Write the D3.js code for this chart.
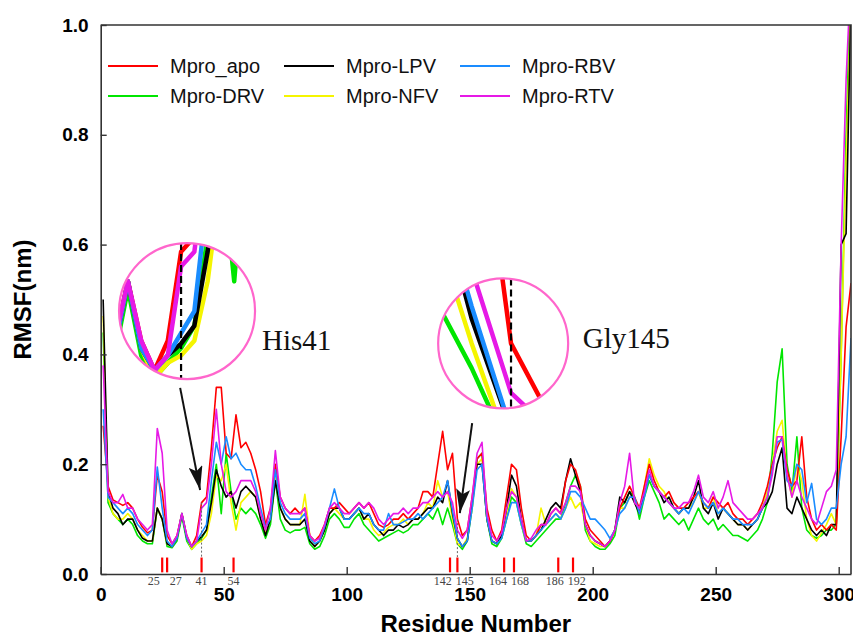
<!DOCTYPE html>
<html>
<head>
<meta charset="utf-8">
<script src="https://cdn.jsdelivr.net/npm/d3@7"></script>
<style>
body { margin: 0; background: #fff; }
text { font-family: "Liberation Sans", Arial, sans-serif; }
</style>
</head>
<body>
<svg id="chart" width="853" height="637"></svg>
<script>
"use strict";

var residues = d3.range(1, 306, 2);

var seriesNames  = ["Mpro_apo", "Mpro-LPV", "Mpro-RBV", "Mpro-DRV", "Mpro-NFV", "Mpro-RTV"];
var seriesColors = ["#ff0000", "#000000", "#1a8cff", "#00e600", "#f5f500", "#e619e6"];
var drawOrder    = ["Mpro-DRV", "Mpro-NFV", "Mpro-LPV", "Mpro_apo", "Mpro-RBV", "Mpro-RTV"];

// RMSF (nm) per series, residues 1,3,5 ... 305
var apo = [
  0.27, 0.16, 0.135, 0.13, 0.125, 0.13, 0.12, 0.10, 0.085, 0.075,
  0.08, 0.18, 0.15, 0.07, 0.055, 0.07, 0.11, 0.07, 0.05, 0.07,
  0.13, 0.14, 0.23, 0.34, 0.34, 0.22, 0.21, 0.29, 0.23, 0.24,
  0.22, 0.19, 0.15, 0.09, 0.12, 0.2, 0.14, 0.12, 0.11, 0.12,
  0.11, 0.12, 0.07, 0.06, 0.07, 0.09, 0.12, 0.12, 0.13, 0.12,
  0.11, 0.12, 0.13, 0.12, 0.13, 0.11, 0.09, 0.085, 0.09, 0.1,
  0.1, 0.11, 0.1, 0.11, 0.12, 0.15, 0.15, 0.14, 0.2, 0.26,
  0.19, 0.22, 0.1, 0.07, 0.08, 0.14, 0.21, 0.22, 0.12, 0.08,
  0.06, 0.08, 0.14, 0.2, 0.19, 0.12, 0.07, 0.06, 0.07, 0.09,
  0.09, 0.11, 0.12, 0.11, 0.17, 0.2, 0.19, 0.16, 0.1, 0.08,
  0.07, 0.06, 0.05, 0.06, 0.08, 0.12, 0.14, 0.16, 0.14, 0.12,
  0.16, 0.2, 0.17, 0.15, 0.14, 0.15, 0.13, 0.12, 0.12, 0.13,
  0.14, 0.15, 0.13, 0.12, 0.14, 0.13, 0.12, 0.13, 0.11, 0.1,
  0.1, 0.09, 0.1, 0.11, 0.13, 0.16, 0.2, 0.23, 0.25, 0.19,
  0.16, 0.17, 0.25, 0.14, 0.1, 0.08, 0.09, 0.08, 0.09, 0.08,
  0.25, 0.45, 0.53
];
var lpv = [
  0.5, 0.15, 0.12, 0.11, 0.09, 0.1, 0.1, 0.08, 0.065, 0.06,
  0.06, 0.12, 0.1, 0.055, 0.05, 0.065, 0.11, 0.065, 0.05, 0.06,
  0.068, 0.08, 0.13, 0.19, 0.16, 0.14, 0.15, 0.12, 0.15, 0.16,
  0.15, 0.14, 0.1, 0.07, 0.1, 0.17, 0.12, 0.1, 0.09, 0.09,
  0.09, 0.1, 0.06, 0.05, 0.06, 0.08, 0.11, 0.12, 0.12, 0.1,
  0.1, 0.11, 0.12, 0.1, 0.11, 0.09, 0.08, 0.07, 0.08, 0.08,
  0.09, 0.085, 0.09, 0.1, 0.1, 0.11, 0.12, 0.12, 0.14, 0.13,
  0.17, 0.11, 0.065, 0.05, 0.06, 0.13, 0.2, 0.2, 0.1, 0.06,
  0.055, 0.07, 0.12, 0.18, 0.16, 0.1, 0.06, 0.06, 0.07, 0.08,
  0.1, 0.12, 0.13, 0.12, 0.17, 0.21, 0.18, 0.15, 0.09, 0.07,
  0.06, 0.055, 0.05, 0.06, 0.08, 0.14, 0.13, 0.15, 0.13, 0.11,
  0.15, 0.18, 0.16, 0.15, 0.13, 0.14, 0.12, 0.11, 0.12, 0.12,
  0.14, 0.17, 0.12, 0.11, 0.13, 0.1, 0.12, 0.11, 0.1, 0.09,
  0.09, 0.08, 0.09, 0.1, 0.12, 0.13, 0.15, 0.2, 0.23, 0.12,
  0.11, 0.14, 0.12, 0.1, 0.08, 0.07, 0.08, 0.07, 0.09, 0.09,
  0.6, 0.62, 1.05
];
var rbv = [
  0.3, 0.14, 0.13, 0.12, 0.11, 0.12, 0.11, 0.09, 0.08, 0.07,
  0.08, 0.195, 0.12, 0.06, 0.05, 0.065, 0.11, 0.065, 0.05, 0.06,
  0.075, 0.09, 0.17, 0.24, 0.2, 0.25, 0.21, 0.22, 0.2, 0.19,
  0.19, 0.16, 0.12, 0.085, 0.1, 0.19, 0.13, 0.11, 0.1, 0.1,
  0.1, 0.11, 0.065, 0.055, 0.06, 0.085, 0.12, 0.155, 0.12, 0.1,
  0.1, 0.11, 0.12, 0.11, 0.11, 0.09, 0.08, 0.08, 0.11, 0.09,
  0.09, 0.095, 0.1, 0.1, 0.11, 0.1, 0.11, 0.12, 0.13, 0.14,
  0.17, 0.115, 0.065, 0.05, 0.06, 0.12, 0.19, 0.2, 0.1, 0.06,
  0.055, 0.065, 0.1, 0.13, 0.13, 0.09, 0.06, 0.06, 0.07, 0.08,
  0.09, 0.1, 0.11, 0.1, 0.12, 0.15, 0.15, 0.14, 0.12, 0.1,
  0.1, 0.09, 0.08, 0.065, 0.08, 0.11, 0.12, 0.14, 0.14, 0.11,
  0.14, 0.18, 0.16, 0.15, 0.14, 0.13, 0.12, 0.11, 0.12, 0.11,
  0.13, 0.15, 0.13, 0.12, 0.13, 0.11, 0.12, 0.11, 0.1, 0.1,
  0.09, 0.09, 0.09, 0.1, 0.12, 0.14, 0.19, 0.24, 0.245, 0.17,
  0.16, 0.2, 0.19, 0.13, 0.165, 0.1, 0.09, 0.1, 0.12, 0.12,
  0.2, 0.25, 0.43
];
var drv = [
  0.44, 0.13, 0.11, 0.1, 0.09, 0.1, 0.09, 0.07, 0.06, 0.055,
  0.055, 0.12, 0.1, 0.05, 0.048, 0.06, 0.105, 0.06, 0.045, 0.055,
  0.065, 0.08, 0.14, 0.2, 0.11, 0.22, 0.15, 0.1, 0.12, 0.11,
  0.12, 0.11, 0.09, 0.065, 0.09, 0.17, 0.1, 0.08, 0.075, 0.08,
  0.08, 0.085, 0.055, 0.045, 0.05, 0.07, 0.1, 0.11, 0.1, 0.085,
  0.085, 0.1, 0.11, 0.09, 0.08, 0.07, 0.06, 0.065, 0.07, 0.075,
  0.08, 0.075, 0.08, 0.09, 0.09, 0.1, 0.11, 0.1, 0.12, 0.09,
  0.12, 0.09, 0.055, 0.045, 0.06, 0.12, 0.21, 0.22, 0.1, 0.055,
  0.05, 0.065, 0.1, 0.14, 0.13, 0.09, 0.055, 0.05, 0.06, 0.07,
  0.08, 0.09, 0.1, 0.1, 0.13, 0.16, 0.18, 0.16, 0.08, 0.06,
  0.05, 0.045, 0.045, 0.055, 0.07, 0.12, 0.13, 0.15, 0.14, 0.1,
  0.14, 0.17, 0.15, 0.13, 0.1, 0.11, 0.1, 0.09, 0.1, 0.08,
  0.1, 0.12, 0.1, 0.09, 0.1, 0.08, 0.09, 0.08, 0.07, 0.07,
  0.065, 0.06, 0.07, 0.08, 0.1, 0.13, 0.22, 0.35, 0.41, 0.2,
  0.15, 0.25, 0.12, 0.08, 0.07, 0.065, 0.07, 0.08, 0.08, 0.09,
  0.4, 0.8, 1.1
];
var nfv = [
  0.47, 0.14, 0.11, 0.1, 0.1, 0.11, 0.1, 0.08, 0.07, 0.06,
  0.06, 0.12, 0.1, 0.055, 0.05, 0.065, 0.11, 0.065, 0.045, 0.055,
  0.06, 0.07, 0.11, 0.18, 0.17, 0.2, 0.13, 0.08, 0.13, 0.14,
  0.15, 0.14, 0.1, 0.075, 0.1, 0.18, 0.12, 0.1, 0.09, 0.09,
  0.09, 0.145, 0.07, 0.05, 0.06, 0.08, 0.11, 0.12, 0.11, 0.1,
  0.1, 0.11, 0.12, 0.1, 0.1, 0.08, 0.07, 0.075, 0.085, 0.09,
  0.09, 0.1, 0.09, 0.1, 0.1, 0.11, 0.13, 0.12, 0.17, 0.14,
  0.15, 0.1, 0.055, 0.05, 0.065, 0.12, 0.2, 0.21, 0.1, 0.06,
  0.055, 0.07, 0.11, 0.155, 0.14, 0.09, 0.06, 0.06, 0.07, 0.12,
  0.09, 0.1, 0.11, 0.1, 0.12, 0.14, 0.12, 0.13, 0.09, 0.06,
  0.055, 0.05, 0.05, 0.06, 0.08, 0.12, 0.12, 0.14, 0.14, 0.11,
  0.16, 0.21, 0.18, 0.16, 0.15, 0.13, 0.12, 0.11, 0.12, 0.12,
  0.13, 0.15, 0.12, 0.12, 0.14, 0.11, 0.12, 0.11, 0.1, 0.09,
  0.09, 0.08, 0.09, 0.1, 0.12, 0.15, 0.2, 0.26, 0.28, 0.18,
  0.14, 0.2, 0.17, 0.1, 0.07, 0.06, 0.075, 0.09, 0.11, 0.09,
  0.4, 0.75, 1.05
];
var rtv = [
  0.38, 0.15, 0.13, 0.13, 0.145, 0.12, 0.12, 0.1, 0.09, 0.08,
  0.09, 0.265, 0.22, 0.08, 0.055, 0.07, 0.11, 0.07, 0.05, 0.06,
  0.12, 0.13, 0.2, 0.3, 0.2, 0.15, 0.14, 0.15, 0.17, 0.17,
  0.17, 0.15, 0.11, 0.08, 0.12, 0.225, 0.14, 0.12, 0.11, 0.11,
  0.11, 0.12, 0.07, 0.06, 0.065, 0.09, 0.12, 0.13, 0.12, 0.11,
  0.11, 0.12, 0.13, 0.12, 0.13, 0.12, 0.1, 0.09, 0.1, 0.11,
  0.11, 0.12, 0.11, 0.12, 0.12, 0.13, 0.13, 0.14, 0.15, 0.14,
  0.15, 0.13, 0.08, 0.065, 0.08, 0.14, 0.22, 0.24, 0.11, 0.07,
  0.06, 0.075, 0.12, 0.15, 0.14, 0.1, 0.06, 0.065, 0.08, 0.09,
  0.09, 0.11, 0.12, 0.11, 0.13, 0.16, 0.16, 0.15, 0.09, 0.07,
  0.06, 0.055, 0.05, 0.06, 0.08, 0.13, 0.16, 0.22, 0.13, 0.12,
  0.15, 0.19, 0.16, 0.15, 0.14, 0.13, 0.12, 0.12, 0.13, 0.13,
  0.15, 0.18, 0.14, 0.13, 0.15, 0.12, 0.14, 0.17, 0.13, 0.12,
  0.11, 0.1, 0.1, 0.11, 0.12, 0.14, 0.18, 0.25, 0.25, 0.18,
  0.14, 0.17, 0.14, 0.12, 0.1, 0.09, 0.12, 0.15, 0.16, 0.19,
  0.6, 0.9, 1.1
];
var seriesValues = [apo, lpv, rbv, drv, nfv, rtv];

var xTicks = [0, 50, 100, 150, 200, 250, 300];
var yTicks = [0.0, 0.2, 0.4, 0.6, 0.8, 1.0];

// binding-site residues marked under the curves
var siteResidues = [25, 27, 41, 54, 142, 145, 164, 168, 186, 192];

var svg = d3.select("#chart");
var width = 853, height = 637;
var margin = {left: 100.7, right: 2, top: 25, bottom: 63};

var x = d3.scaleLinear().domain([0, 305]).range([margin.left, width - margin.right]);
var y = d3.scaleLinear().domain([0, 1]).range([height - margin.bottom, margin.top]);

var series = seriesNames.map(function(name, i) {
    return {
        name: name,
        color: seriesColors[i],
        points: residues.map(function(r, j) { return {r: r, v: seriesValues[i][j]}; })
    };
});
var byName = {};
series.forEach(function(s) { byName[s.name] = s; });

// clip for the plot area
var defs = svg.append("defs");
defs.append("clipPath").attr("id", "plotClip")
    .append("rect")
    .attr("x", x(0)).attr("y", y(1))
    .attr("width", x(305) - x(0)).attr("height", y(0) - y(1));

var line = d3.line().x(function(d) { return x(d.r); }).y(function(d) { return y(d.v); });

var plot = svg.append("g").attr("clip-path", "url(#plotClip)");
drawOrder.forEach(function(name) {
    var s = byName[name];
    plot.append("path")
        .datum(s.points)
        .attr("fill", "none")
        .attr("stroke", s.color)
        .attr("stroke-width", 1.6)
        .attr("stroke-linejoin", "round")
        .attr("d", line);
});

// axes
var axisColor = "#333";
var xAxis = d3.axisBottom(x).tickValues(xTicks).tickFormat(d3.format("d"))
    .tickSizeInner(-7).tickSizeOuter(0).tickPadding(14);
var gx = svg.append("g").attr("transform", "translate(0," + y(0) + ")").call(xAxis);

var yAxis = d3.axisLeft(y).tickValues(yTicks).tickFormat(d3.format(".1f"))
    .tickSizeInner(-6).tickSizeOuter(0).tickPadding(12);
var gy = svg.append("g").attr("transform", "translate(" + x(0) + ",0)").call(yAxis);

[gx, gy].forEach(function(g) {
    g.select(".domain").attr("stroke", axisColor).attr("stroke-width", 1.6);
    g.selectAll(".tick line").attr("stroke", axisColor).attr("stroke-width", 1.4);
    g.selectAll(".tick text")
        .attr("fill", "#000")
        .style("font-family", "'Liberation Sans', Arial, sans-serif")
        .style("font-weight", "bold")
        .style("font-size", "19px");
});

// top and right frame
svg.append("path")
    .attr("d", "M" + x(0) + "," + y(1) + "H" + x(305) + "V" + y(0))
    .attr("fill", "none").attr("stroke", axisColor).attr("stroke-width", 1.6);

// axis titles
svg.append("text")
    .attr("x", (x(0) + x(305)) / 2).attr("y", 632)
    .attr("text-anchor", "middle")
    .style("font-weight", "bold").style("font-size", "24px")
    .text("Residue Number");

svg.append("text")
    .attr("transform", "translate(31," + y(0.5) + ") rotate(-90)")
    .attr("text-anchor", "middle")
    .style("font-weight", "bold").style("font-size", "24px")
    .text("RMSF(nm)");

// legend
var legend = svg.append("g");
series.forEach(function(s, i) {
    var col = i % 3, row = Math.floor(i / 3);
    var lx = 108 + col * 176, ly = 66 + row * 30;
    legend.append("line")
        .attr("x1", lx).attr("x2", lx + 50)
        .attr("y1", ly).attr("y2", ly)
        .attr("stroke", s.color).attr("stroke-width", 1.8);
    legend.append("text")
        .attr("x", lx + 62).attr("y", ly + 7)
        .style("font-size", "20px")
        .attr("fill", "#111")
        .text(s.name);
});

// residue markers along the axis
var marks = svg.append("g");
siteResidues.forEach(function(r) {
    marks.append("line")
        .attr("x1", x(r)).attr("x2", x(r))
        .attr("y1", y(0.03)).attr("y2", y(0.003))
        .attr("stroke", "#ff0000").attr("stroke-width", 2.2);
});
var labelX = siteResidues.map(function(r) { return x(r); });
for (var i = 0; i < siteResidues.length - 1; i++) {
    if (x(siteResidues[i + 1]) - x(siteResidues[i]) < 20) {
        var mid = (x(siteResidues[i]) + x(siteResidues[i + 1])) / 2;
        labelX[i] = mid - 11;
        labelX[i + 1] = mid + 11;
    }
}
siteResidues.forEach(function(r, i) {
    marks.append("text")
        .attr("x", labelX[i]).attr("y", 585)
        .attr("text-anchor", "middle")
        .style("font-family", "'Liberation Serif', 'Times New Roman', serif")
        .style("font-size", "12px")
        .attr("fill", "#444")
        .text(r);
});

// dotted guides from the curves down to His41 and Gly145
[41, 145].forEach(function(r) {
    var j = residues.indexOf(r);
    var top = d3.max(seriesValues, function(vals) { return vals[j]; });
    marks.append("line")
        .attr("x1", x(r)).attr("x2", x(r))
        .attr("y1", y(top)).attr("y2", y(0.03))
        .attr("stroke", "#666").attr("stroke-width", 1)
        .attr("stroke-dasharray", "2,2");
});

// magnified insets
var insets = [
    {id: "inset41", residue: 41, r0: 41.9, v0: 0.09, kx: 2.7, ky: 2.7, cr: 35.1, cv: 0.479, radius: 68,
     label: "His41", lr: 65.6, lv: 0.408, tip: [40.4, 0.153], tail: [32.3, 0.339]},
    {id: "inset145", residue: 145, r0: 144.6, v0: 0.1, kx: 8, ky: 4.5, cr: 163.6, cv: 0.42, radius: 65,
     label: "Gly145", lr: 196, lv: 0.412, tip: [146, 0.111], tail: [151, 0.275]}
];

defs.append("marker")
    .attr("id", "arrowHead")
    .attr("markerUnits", "userSpaceOnUse")
    .attr("markerWidth", 26).attr("markerHeight", 14)
    .attr("refX", 24).attr("refY", 7)
    .attr("orient", "auto")
    .append("path")
    .attr("d", "M0,0 L24,7 L0,14 L5,7 Z")
    .attr("fill", "#111");

insets.forEach(function(ins) {
    var cx = x(ins.cr), cy = y(ins.cv);
    defs.append("clipPath").attr("id", ins.id + "Clip")
        .append("circle").attr("cx", cx).attr("cy", cy).attr("r", ins.radius);

    var g = svg.append("g");
    g.append("circle").attr("cx", cx).attr("cy", cy).attr("r", ins.radius).attr("fill", "#fff");

    var inner = g.append("g").attr("clip-path", "url(#" + ins.id + "Clip)");
    var zx = function(r) { return cx + ins.kx * (x(r) - x(ins.r0)); };
    var zy = function(v) { return cy + ins.ky * (y(v) - y(ins.v0)); };
    var zline = d3.line().x(function(d) { return zx(d.r); }).y(function(d) { return zy(d.v); });

    drawOrder.forEach(function(name) {
        var s = byName[name];
        inner.append("path")
            .datum(s.points)
            .attr("fill", "none")
            .attr("stroke", s.color)
            .attr("stroke-width", 4.5)
            .attr("stroke-linejoin", "round")
            .attr("d", zline);
    });
    inner.append("line")
        .attr("x1", zx(ins.residue)).attr("x2", zx(ins.residue))
        .attr("y1", cy - ins.radius).attr("y2", cy + ins.radius)
        .attr("stroke", "#000").attr("stroke-width", 2.2)
        .attr("stroke-dasharray", "7,4");

    g.append("circle").attr("cx", cx).attr("cy", cy).attr("r", ins.radius)
        .attr("fill", "none").attr("stroke", "#ff66cc").attr("stroke-width", 2.2);

    svg.append("text")
        .attr("x", x(ins.lr)).attr("y", y(ins.lv))
        .style("font-family", "'Liberation Serif', 'Times New Roman', serif")
        .style("font-size", "29px")
        .attr("fill", "#111")
        .text(ins.label);

    svg.append("line")
        .attr("x1", x(ins.tail[0])).attr("y1", y(ins.tail[1]))
        .attr("x2", x(ins.tip[0])).attr("y2", y(ins.tip[1]))
        .attr("stroke", "#111").attr("stroke-width", 2)
        .attr("marker-end", "url(#arrowHead)");
});
</script>
</body>
</html>
